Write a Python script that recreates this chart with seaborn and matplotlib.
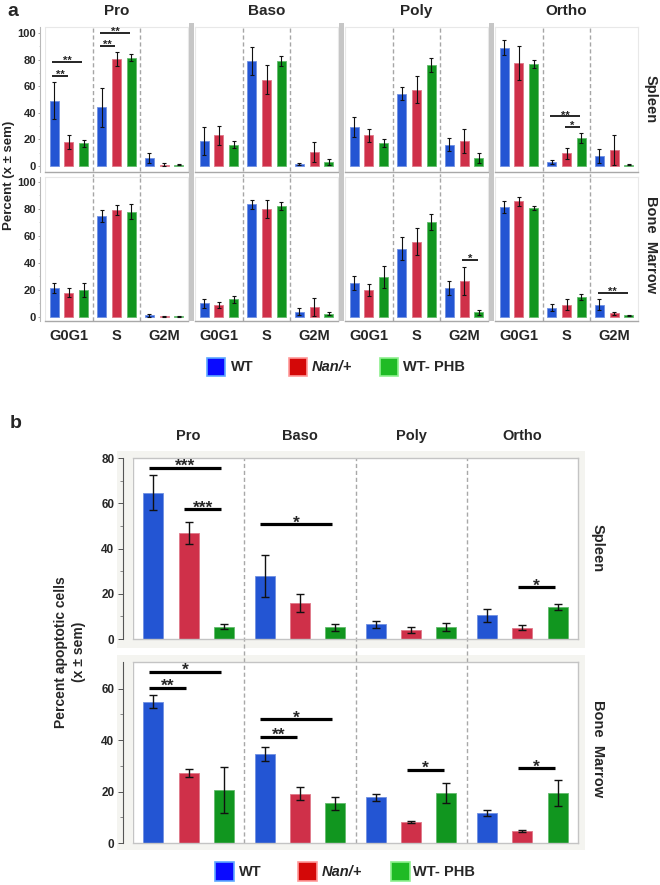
import numpy as np
import pandas as pd
import matplotlib
matplotlib.use('Agg')
import matplotlib.pyplot as plt
from matplotlib.patches import Rectangle
from matplotlib.colors import to_rgb
import seaborn as sns

# ---------------- data ----------------
cells = ['Pro', 'Baso', 'Poly', 'Ortho']
phases = ['G0G1', 'S', 'G2M']
groups = ['WT', 'Nan/+', 'WT- PHB']

# panel a: values ordered Pro(G0G1,S,G2M), Baso(...), Poly(...), Ortho(...)
a_spleen_wt = [49, 44, 6, 19, 79, 1.5, 29, 54.5, 16, 89, 3, 7.5]
a_spleen_nan = [18, 80.5, 1, 23, 65, 10.5, 23, 57.5, 19, 77.5, 9.5, 12]
a_spleen_phb = [17, 81.5, 1, 16, 79, 3, 17, 76, 6, 77, 21, 1]
a_spleen_wt_sem = [14, 15, 4, 10.5, 10.5, 1, 7.5, 5, 5, 5.5, 1.5, 5]
a_spleen_nan_sem = [5, 5.5, 1, 7, 11, 7.5, 5, 10, 9, 13, 4, 11]
a_spleen_phb_sem = [2.5, 2.5, 0.5, 2.5, 3.5, 2.5, 3, 5, 4, 3, 3.5, 0.5]

a_bm_wt = [21.5, 74.5, 1.3, 10, 83.5, 4, 25, 50.6, 21.5, 81.5, 7, 9]
a_bm_nan = [18, 79, 0.5, 9, 80, 7.5, 19.8, 55.6, 26.4, 85.7, 9, 2.7]
a_bm_phb = [20, 78, 0.5, 13, 82, 2.5, 29.6, 70.4, 3.5, 80.7, 14.8, 1.2]
a_bm_wt_sem = [4, 4.5, 1, 3.5, 3.5, 2.7, 5.3, 8.6, 5.5, 4.3, 2.3, 4]
a_bm_nan_sem = [3.5, 3.7, 0.3, 2, 7, 6.5, 4.5, 10, 10.5, 3.3, 4, 1]
a_bm_phb_sem = [5.5, 5.5, 0.3, 2.5, 3, 1.2, 8.4, 6, 1.8, 1.7, 2, 0.5]

# significance (row, cell, phase, group1, group2, y, label)
a_sig = [
    (0, 'Pro', 'G0G1', 0, 1, 68, '**'),
    (0, 'Pro', 'G0G1', 0, 2, 78.5, '**'),
    (0, 'Pro', 'S', 0, 1, 90.5, '**'),
    (0, 'Pro', 'S', 0, 2, 100, '**'),
    (0, 'Ortho', 'S', 0, 2, 37.5, '**'),
    (0, 'Ortho', 'S', 1, 2, 29.5, '*'),
    (1, 'Poly', 'G2M', 1, 2, 42.5, '*'),
    (1, 'Ortho', 'G2M', 0, 2, 18, '**'),
]

# panel b: values ordered Pro, Baso, Poly, Ortho
b_spleen_wt = [64.7, 28, 6.5, 10.5]
b_spleen_nan = [47, 15.9, 3.9, 5]
b_spleen_phb = [5.5, 5.2, 5.3, 14]
b_spleen_wt_sem = [7.7, 9.3, 1.6, 2.9]
b_spleen_nan_sem = [4.8, 3.9, 1.3, 1.2]
b_spleen_phb_sem = [1, 1.5, 1.8, 1.4]

b_bm_wt = [54.9, 34.6, 17.8, 11.6]
b_bm_nan = [27.2, 19.1, 8, 4.7]
b_bm_phb = [20.7, 15.4, 19.5, 19.3]
b_bm_wt_sem = [2.6, 2.6, 1.4, 1.2]
b_bm_nan_sem = [1.4, 2.5, 0.4, 0.5]
b_bm_phb_sem = [8.9, 2.6, 3.9, 5]

b_sig = [
    (0, 'Pro', 0, 2, 75.6, '***'),
    (0, 'Pro', 1, 2, 57.3, '***'),
    (0, 'Baso', 0, 2, 50.7, '*'),
    (0, 'Ortho', 1, 2, 22.8, '*'),
    (1, 'Pro', 0, 1, 60.3, '**'),
    (1, 'Pro', 0, 2, 66.5, '*'),
    (1, 'Baso', 0, 1, 41.2, '**'),
    (1, 'Baso', 0, 2, 48.1, '*'),
    (1, 'Poly', 1, 2, 28.5, '*'),
    (1, 'Ortho', 1, 2, 29.0, '*'),
]

bar_colors = ['#2355d3', '#cf3049', '#11961f']
legend_colors = ['#0a0aff', '#d40808', '#1fbb25']
legend_edges = ['#5fa8ff', '#ff9a9a', '#8ff08f']

# ---------------- style ----------------
sns.set_style('white')
plt.rcParams['font.family'] = ['Liberation Sans', 'DejaVu Sans']

W, H = 660, 885
fig = plt.figure(figsize=(6.6, 8.85), dpi=100)


def fbox(x0, y0, x1, y1):
    return [x0 / W, 1 - y1 / H, (x1 - x0) / W, (y1 - y0) / H]


def fxy(x, y):
    return x / W, 1 - y / H


def frect(x0, y0, x1, y1, **kw):
    r = Rectangle(fxy(x0, y1), (x1 - x0) / W, (y1 - y0) / H,
                  transform=fig.transFigure, **kw)
    fig.add_artist(r)
    return r


def lighten(c, f):
    r, g, b = to_rgb(c)
    return (r + (1 - r) * f, g + (1 - g) * f, b + (1 - b) * f)


def bars(ax, cats, means, sems, width, gap, capsize, elw):
    rows = []
    for gi, g in enumerate(groups):
        for ci, c in enumerate(cats):
            rows.append({'cat': c, 'group': g, 'value': means[gi][ci]})
    df = pd.DataFrame(rows)
    sns.barplot(data=df, x='cat', y='value', hue='group', order=cats,
                hue_order=groups, palette=bar_colors, errorbar=None,
                width=width, gap=gap, legend=False, saturation=1, ax=ax,
                zorder=2)
    patches = sorted(ax.patches, key=lambda p: p.get_x())
    for p in patches:
        p.set_edgecolor(lighten(p.get_facecolor(), 0.35))
        p.set_linewidth(0.6)
    xs = np.array([p.get_x() + p.get_width() / 2 for p in patches]).reshape(len(cats), 3)
    hs = np.array([p.get_height() for p in patches]).reshape(len(cats), 3)
    errs = np.array(sems).T
    ax.errorbar(xs.ravel(), hs.ravel(), yerr=errs.ravel(), fmt='none',
                ecolor='#111111', elinewidth=elw, capsize=capsize,
                capthick=elw, zorder=3)
    ax.set_xlabel('')
    ax.set_ylabel('')
    return xs


def sig(ax, xs, ci, g1, g2, y, label, lw, fs, off):
    span = xs[ci, 1] - xs[ci, 0]
    x1 = xs[ci, g1] - 0.12 * span
    x2 = xs[ci, g2] - 0.08 * span
    ax.plot([x1, x2], [y, y], color='black', lw=lw, solid_capstyle='butt',
            zorder=4)
    ax.annotate(label, ((x1 + x2) / 2, y), xytext=(0, off),
                textcoords='offset points', ha='center', va='center',
                fontsize=fs, fontweight='bold', zorder=5)


# ---------------- panel a ----------------
cols_x = [(45, 188), (195, 338), (345, 488), (495, 638)]
rows_y = [(27, 172), (177, 321)]
ylims = [(-4.5, 104.5), (-3.0, 103.7)]
a_means = [[a_spleen_wt, a_spleen_nan, a_spleen_phb],
           [a_bm_wt, a_bm_nan, a_bm_phb]]
a_sems = [[a_spleen_wt_sem, a_spleen_nan_sem, a_spleen_phb_sem],
          [a_bm_wt_sem, a_bm_nan_sem, a_bm_phb_sem]]

# gray separators between cell types
for xa, xb in [(189, 194), (339, 344), (489, 494)]:
    frect(xa, 23, xb, 321, facecolor='#c6c6c6', edgecolor='none', zorder=1)

a_axes = {}
for r, (y0, y1) in enumerate(rows_y):
    for c, (x0, x1) in enumerate(cols_x):
        ax = fig.add_axes(fbox(x0, y0, x1, y1))
        a_axes[(r, c)] = ax
        sl = slice(c * 3, c * 3 + 3)
        means = [a_means[r][g][sl] for g in range(3)]
        sems = [a_sems[r][g][sl] for g in range(3)]
        xs = bars(ax, phases, means, sems, 0.93, 0.39, 1.6, 0.8)
        ax.set_ylim(*ylims[r])
        ax.set_xlim(-0.5, 2.5)
        for s in ['top', 'right', 'left']:
            ax.spines[s].set_color('#e8e8e8')
            ax.spines[s].set_linewidth(0.8)
        ax.spines['bottom'].set_color('#a8a8a8')
        ax.spines['bottom'].set_linewidth(1.0)
        for xv in [0.5, 1.5]:
            ax.axvline(xv, ymin=-0.04 if r == 0 else 0, ymax=1,
                       color='#a6a6a6', lw=1.0, ls=(0, (3, 2)),
                       clip_on=False, zorder=1)
        if c == 0:
            ax.spines['left'].set_position(('outward', 3.5))
            ax.spines['left'].set_color('#b8b8b8')
            ax.axvline(-0.5, color='#e8e8e8', lw=0.8, zorder=1)
            ax.set_yticks([0, 20, 40, 60, 80, 100])
            ax.set_yticks([10, 30, 50, 70, 90], minor=True)
            ax.tick_params(axis='y', which='major', left=True, length=1.5,
                           width=0.6, color='#999999', pad=1.5, labelsize=8)
            ax.tick_params(axis='y', which='minor', left=True, length=1.0,
                           width=0.5, color='#bbbbbb')
            for lab in ax.get_yticklabels():
                lab.set_fontweight('bold')
        else:
            ax.set_yticks([])
        if r == 1:
            ax.tick_params(axis='x', length=0, pad=6, labelsize=10.5)
            for lab in ax.get_xticklabels():
                lab.set_fontweight('bold')
        else:
            ax.set_xticks([])
        for (rr, cell, ph, g1, g2, yv, lab) in a_sig:
            if rr == r and cell == cells[c]:
                sig(ax, xs, phases.index(ph), g1, g2, yv, lab, 1.2, 8, 0.5)
        if r == 0:
            ax.text(0.5, 1 + 16 / 145, cells[c], transform=ax.transAxes,
                    ha='center', va='center', fontsize=11, fontweight='bold')

fig.text(*fxy(13, 11), 'a', ha='center', va='center', fontsize=14,
         fontweight='bold')
fig.text(*fxy(9, 175), 'Percent (x ± sem)', rotation=90, ha='center',
         va='center', fontsize=9.5, fontweight='bold')
fig.text(*fxy(651, 99), 'Spleen', rotation=270, ha='center', va='center',
         fontsize=10.5, fontweight='bold')
fig.text(*fxy(651, 245), 'Bone  Marrow', rotation=270, ha='center',
         va='center', fontsize=10.5, fontweight='bold')

# legend a
for (sx, tx), col, ec, g in zip([(207, 231), (289, 312), (380, 403)],
                                legend_colors, legend_edges, groups):
    frect(sx, 358, sx + 18, 376, facecolor=col, edgecolor=ec, lw=1.2,
          zorder=3)
    fig.text(*fxy(tx, 367), g, ha='left', va='center', fontsize=10.5,
             fontweight='bold', style='italic' if g == 'Nan/+' else 'normal')

# ---------------- panel b ----------------
b_boxes = [(133, 458, 578, 639), (133, 662, 578, 843)]
b_ylims = [(0, 80), (0, 70.3)]
b_bands = [(117, 451, 585, 648), (117, 655, 585, 850)]
b_means = [[b_spleen_wt, b_spleen_nan, b_spleen_phb],
           [b_bm_wt, b_bm_nan, b_bm_phb]]
b_sems = [[b_spleen_wt_sem, b_spleen_nan_sem, b_spleen_phb_sem],
          [b_bm_wt_sem, b_bm_nan_sem, b_bm_phb_sem]]

for (x0, y0, x1, y1) in b_bands:
    frect(x0, y0, x1, y1, facecolor='#f4f4f0', edgecolor='none', zorder=-2)

for r, (x0, y0, x1, y1) in enumerate(b_boxes):
    ax = fig.add_axes(fbox(x0, y0, x1, y1))
    xs = bars(ax, cells, b_means[r], b_sems[r], 0.95, 0.43, 3.2, 1.0)
    ax.set_xlim(-0.5, 3.5)
    ax.set_ylim(*b_ylims[r])
    for s in ['top', 'right', 'bottom']:
        ax.spines[s].set_color('#c4c4c4')
        ax.spines[s].set_linewidth(1.0)
    ax.spines['left'].set_position(('outward', 7))
    ax.spines['left'].set_color('#555555')
    ax.spines['left'].set_linewidth(0.8)
    ax.axvline(-0.5, color='#c4c4c4', lw=1.0, zorder=1)
    ax.set_xticks([])
    yt = [0, 20, 40, 60, 80] if r == 0 else [0, 20, 40, 60]
    ax.set_yticks(yt)
    ax.set_yticks([10, 30, 50, 70] if r == 0 else [10, 30, 50], minor=True)
    ax.tick_params(axis='y', which='major', left=True, length=3.5, width=0.7,
                   color='#555555', pad=3, labelsize=8.5)
    ax.tick_params(axis='y', which='minor', left=True, length=2, width=0.6,
                   color='#777777')
    for lab in ax.get_yticklabels():
        lab.set_fontweight('bold')
    for xv in [0.5, 1.5, 2.5]:
        ax.axvline(xv, ymin=-0.127 if r == 0 else 0, ymax=1, color='#a8a8a8',
                   lw=1.0, ls=(0, (3, 2)), clip_on=False, zorder=1)
    for (rr, cell, g1, g2, yv, lab) in b_sig:
        if rr == r:
            sig(ax, xs, cells.index(cell), g1, g2, yv, lab, 2.3, 12.5, 1.0)
    if r == 0:
        for i, cell in enumerate(cells):
            ax.text(i, 1 + 22 / 181, cell, transform=ax.get_xaxis_transform(),
                    ha='center', va='center', fontsize=10.5,
                    fontweight='bold')

fig.text(*fxy(16, 423), 'b', ha='center', va='center', fontsize=14,
         fontweight='bold')
fig.text(*fxy(70, 652), 'Percent apoptotic cells\n(x ± sem)', rotation=90,
         ha='center', va='center', fontsize=10, fontweight='bold',
         multialignment='center', linespacing=1.3)
fig.text(*fxy(598, 548), 'Spleen', rotation=270, ha='center', va='center',
         fontsize=10.5, fontweight='bold')
fig.text(*fxy(598, 749), 'Bone  Marrow', rotation=270, ha='center',
         va='center', fontsize=10.5, fontweight='bold')

for (sx, tx), col, ec, g in zip([(215, 239), (298, 322), (391, 413)],
                                legend_colors, legend_edges, groups):
    frect(sx, 862, sx + 19, 881, facecolor=col, edgecolor=ec, lw=1.2,
          zorder=3)
    fig.text(*fxy(tx, 872), g, ha='left', va='center', fontsize=10.5,
             fontweight='bold', style='italic' if g == 'Nan/+' else 'normal')

fig.savefig('out.png', dpi=100, facecolor='white')
